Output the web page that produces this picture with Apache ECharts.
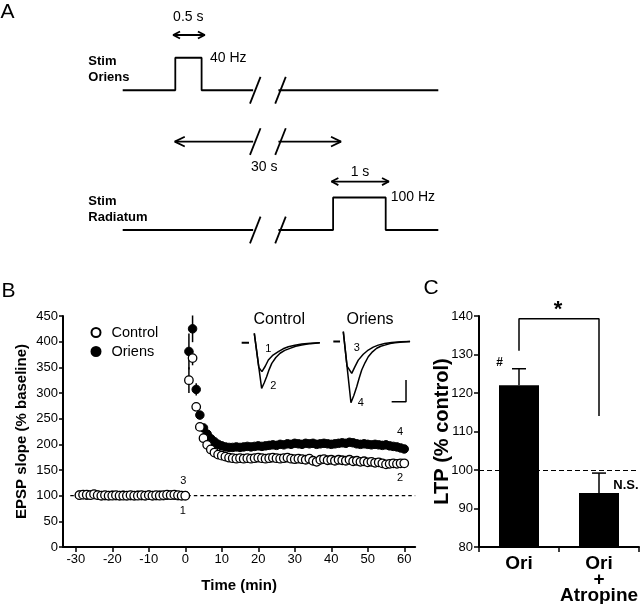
<!DOCTYPE html>
<html><head><meta charset="utf-8">
<script src="https://cdn.jsdelivr.net/npm/echarts@6/dist/echarts.min.js"></script>
<style>html,body{margin:0;padding:0;background:#fff}#c{width:640px;height:604px}</style>
</head><body><div id="c"></div>
<script>
const FONT = '"Liberation Sans", Arial, Helvetica, sans-serif';

// ---------- Panel A: stimulation schematic (x: schematic seconds, y: level) ----------
const oriensTraceLeft = [[0,4.3],[1.0,4.3],[1.0,5.3],[1.5,5.3],[1.5,4.3],[2.48,4.3]];
const oriensTraceRight = [[2.96,4.3],[6.0,4.3]];
const radiatumTraceLeft = [[0,0],[2.48,0]];
const radiatumTraceRight = [[2.96,0],[4.0,0],[4.0,1],[5.0,1],[5.0,0],[6.0,0]];
const intervalArrowLeft = [[0.99,2.72],[2.48,2.72]];
const intervalArrowRight = [[2.96,2.72],[4.15,2.72]];
const oriensPulseArrow = [[0.96,6.0],[1.56,6.0]];
const radiatumPulseArrow = [[3.97,1.49],[5.06,1.49]];
const breakRows = [4.3, 2.72, 0];
const breakXs = [[2.42,2.62],[2.90,3.10]];

// ---------- Panel B: EPSP slope time course ----------
const baselineTimes = [-29,-28,-27,-26,-25,-24,-23,-22,-21,-20,-19,-18,-17,-16,-15,-14,-13,-12,-11,-10,-9,-8,-7,-6,-5,-4,-3,-2,-1,0];
const controlBaseline = [101,102,102,101,103,101,100,101,100,100,101,100,100,100,101,100,100,101,100,101,100,101,100,101,102,101,102,101,100,100];
const oriensBaseline  = [101,102,101,101,102,101,100,100,100,101,100,100,101,100,100,100,101,100,100,101,100,100,101,100,101,101,101,100,100,100];
const postTimes = [1,2,3,4,5,6,7,8,9,10,11,12,13,14,15,16,17,18,19,20,21,22,23,24,25,26,27,28,29,30,31,32,33,34,35,36,37,38,39,40,41,42,43,44,45,46,47,48,49,50,51,52,53,54,55,56,57,58,59,60];
const controlPost = [325,368,273,234,212,199,190,184,180,178,176,174,173,172,173,172,173,172,173,174,173,172,173,174,173,172,173,174,172,171,172,171,170,172,168,166,170,171,169,170,168,170,169,168,170,167,168,166,167,165,166,164,165,163,161,162,163,162,163,163];
const oriensPost = [381,425,307,257,232,220,211,205,200,197,195,194,194,195,194,195,196,195,196,197,196,197,198,199,198,200,199,201,200,202,201,200,202,201,202,200,201,202,201,200,201,202,203,202,204,203,201,200,201,200,199,200,199,198,199,197,196,195,193,191];
const controlErr = [[1,325,25],[2,368,14],[3,273,8],[4,234,5]];
const oriensErr = [[1,381,35],[2,425,26],[3,307,12],[4,257,8]];
const xTickValues = [-30,-20,-10,0,10,20,30,40,50,60];
const baselineRef = [[-31.5,100],[63,100]];

// Inset example traces (ms, mV)
const controlDash = [[-8.1,0],[-3.4,0]];
const controlTrace1 = [[0,0.42],[2.9,-1.1],[4.9,-1.29],[7.0,-1.05],[9.0,-0.77],[12,-0.55],[15.4,-0.40],[18.5,-0.27],[21.8,-0.18],[26,-0.11],[30.4,-0.06],[36,-0.02],[42,0]];
const controlTrace2 = [[0,0.42],[4.7,-2.04],[6.3,-1.80],[7.9,-1.52],[9.5,-1.20],[11.2,-0.92],[13.8,-0.66],[16.5,-0.47],[19.5,-0.34],[22.9,-0.25],[26.5,-0.16],[30.4,-0.10],[36,-0.04],[42,0]];
const oriensDash = [[-6.4,0],[-2.1,0]];
const oriensTrace3 = [[0,0.44],[2.4,-1.1],[5.4,-1.42],[7.4,-1.13],[9.6,-0.83],[12.8,-0.57],[16.0,-0.38],[19.2,-0.25],[22.4,-0.16],[26.5,-0.09],[31.0,-0.04],[37,-0.01],[42.8,0]];
const oriensTrace4 = [[0,0.44],[4.9,-2.73],[6.8,-2.40],[8.6,-2.02],[10.2,-1.63],[11.8,-1.27],[13.9,-0.95],[16.0,-0.68],[18.7,-0.46],[21.4,-0.30],[24,-0.21],[26.6,-0.16],[30,-0.09],[33.1,-0.05],[38,-0.02],[42.8,0]];
const scaleBar = [[31,-2.69],[40.2,-2.69],[40.2,-1.72]];

// ---------- Panel C: LTP bars ----------
const ltpCategories = ['Ori', 'Ori\n+\nAtropine'];
const ltpValues = [122, 94];
const ltpErr = [[0,122,4.3],[1,94,5.2]];
const sigBracket = [[0,131],[0,139.3],[1,139.3],[1,114]];
const yTicksC = [80,140,10];

// ---------- build ----------
function seg(data, gi, width, extra) {
  return Object.assign({type:'line', xAxisIndex:gi, yAxisIndex:gi, data:data, symbol:'none', silent:true,
    lineStyle:{color:'#000', width:width}, z:2, animation:false}, extra || {});
}
function heads(arrow, len, half) {
  const a = arrow[0], b = arrow[1];
  return [
    [[a[0]+len, a[1]+half],[a[0],a[1]],[a[0]+len, a[1]-half]],
    [[b[0]-len, b[1]+half],[b[0],b[1]],[b[0]-len, b[1]-half]]
  ];
}
const series = [];
const AW = 1.8;
// Panel A
[oriensTraceLeft, oriensTraceRight, radiatumTraceLeft, radiatumTraceRight,
 intervalArrowLeft, intervalArrowRight, oriensPulseArrow, radiatumPulseArrow].forEach(d => series.push(seg(d, 0, AW)));
breakRows.forEach(r => breakXs.forEach(bx => series.push(seg([[bx[0], r-0.41],[bx[1], r+0.41]], 0, AW))));
heads([intervalArrowLeft[0], intervalArrowRight[1]], 0.19, 0.15).forEach(h => series.push(seg(h, 0, AW)));
heads(oriensPulseArrow, 0.13, 0.11).forEach(h => series.push(seg(h, 0, AW)));
heads(radiatumPulseArrow, 0.13, 0.11).forEach(h => series.push(seg(h, 0, AW)));

// Panel B main
const zip = (xs, ys) => xs.map((x, i) => [x, ys[i]]);
series.push(seg(baselineRef, 1, 1.2, {lineStyle:{color:'#000', width:1.2, type:[3.5,3]}, z:1}));
function errRender(params, api) {
  const x = api.value(0), v = api.value(1), e = api.value(2);
  const p1 = api.coord([x, v - e]), p2 = api.coord([x, v + e]);
  return {type:'line', shape:{x1:p1[0], y1:p1[1], x2:p2[0], y2:p2[1]}, style:{stroke:'#000', lineWidth:1.5}};
}
series.push({type:'custom', xAxisIndex:1, yAxisIndex:1, data:oriensErr, renderItem:errRender, z:2, silent:true, encode:{x:0,y:1}});
series.push({type:'custom', xAxisIndex:1, yAxisIndex:1, data:controlErr, renderItem:errRender, z:2, silent:true, encode:{x:0,y:1}});
series.push({name:'Oriens', type:'scatter', xAxisIndex:1, yAxisIndex:1, symbol:'circle', symbolSize:8.5,
  data: zip(baselineTimes, oriensBaseline).concat(zip(postTimes, oriensPost)),
  itemStyle:{color:'#000', borderColor:'#000', borderWidth:1, opacity:1}, z:3, silent:true});
series.push({name:'Control', type:'scatter', xAxisIndex:1, yAxisIndex:1, symbol:'circle', symbolSize:8.5,
  data: zip(baselineTimes, controlBaseline).concat(zip(postTimes, controlPost)),
  itemStyle:{color:'#fff', borderColor:'#000', borderWidth:1.3, opacity:1}, z:4, silent:true});

// Insets
series.push(seg(controlDash, 2, 2));
series.push(seg(controlTrace1, 2, 1.5));
series.push(seg(controlTrace2, 2, 1.5));
series.push(seg(oriensDash, 3, 2));
series.push(seg(oriensTrace3, 3, 1.5));
series.push(seg(oriensTrace4, 3, 1.5));
series.push(seg(scaleBar, 3, 1.5));

// Panel C
series.push({type:'bar', xAxisIndex:4, yAxisIndex:4, data:ltpValues, barWidth:40, itemStyle:{color:'#000'}, z:2, silent:true,
  markLine:{symbol:'none', silent:true, label:{show:false}, lineStyle:{color:'#000', width:1.2, type:[5,3]}, data:[{yAxis:100}]}});
function errRenderC(params, api) {
  const c = api.value(0), v = api.value(1), e = api.value(2);
  const base = api.coord([c, v]), top = api.coord([c, v + e]);
  const w = 7;
  return {type:'group', children:[
    {type:'line', shape:{x1:base[0], y1:base[1], x2:top[0], y2:top[1]}, style:{stroke:'#000', lineWidth:1.5}},
    {type:'line', shape:{x1:top[0]-w, y1:top[1], x2:top[0]+w, y2:top[1]}, style:{stroke:'#000', lineWidth:1.5}}
  ]};
}
series.push({type:'custom', xAxisIndex:4, yAxisIndex:4, data:ltpErr, renderItem:errRenderC, z:3, silent:true, encode:{x:0,y:1}});
series.push(seg(sigBracket, 4, 1.5, {clip:false}));

const hidden = {show:false};
const axLine = {show:true, onZero:false, lineStyle:{color:'#000', width:2}};
const tickStyle = {color:'#000', width:1.5};
const lab = {color:'#000', fontFamily:FONT, fontSize:13};

const option = {
  animation:false,
  textStyle:{fontFamily:FONT},
  grid:[
    {left:122.7, top:18.75, width:315.6, height:243.75, outerBoundsMode:'none', containLabel:false},
    {left:63, top:316, width:352.2, height:231, outerBoundsMode:'none', containLabel:false},
    {left:238.7, top:329.3, width:85.8, height:62.7, outerBoundsMode:'none', containLabel:false},
    {left:327.7, top:328.1, width:85.8, height:80.6, outerBoundsMode:'none', containLabel:false},
    {left:479, top:316, width:160, height:231, outerBoundsMode:'none', containLabel:false}
  ],
  xAxis:[
    {gridIndex:0, type:'value', min:0, max:6, show:false},
    {gridIndex:1, type:'value', min:-33.5, max:63, axisLine:axLine,
     axisTick:{show:true, length:5, lineStyle:tickStyle, customValues:xTickValues},
     axisLabel:Object.assign({customValues:xTickValues, margin:6}, lab),
     splitLine:hidden, name:'Time (min)', nameLocation:'middle', nameGap:31, nameMoveOverlap:false,
     nameTextStyle:{color:'#000', fontFamily:FONT, fontSize:15, fontWeight:'bold'}},
    {gridIndex:2, type:'value', min:-10, max:45, show:false},
    {gridIndex:3, type:'value', min:-10, max:45, show:false},
    {gridIndex:4, type:'category', data:ltpCategories, axisLine:axLine,
     axisTick:{show:true, length:5, lineStyle:tickStyle, alignWithLabel:false},
     axisLabel:{color:'#000', fontFamily:FONT, fontSize:19, fontWeight:'bold', lineHeight:16, margin:9, interval:0},
     splitLine:hidden}
  ],
  yAxis:[
    {gridIndex:0, type:'value', min:-1, max:6.5, show:false},
    {gridIndex:1, type:'value', min:0, max:450, interval:50, axisLine:axLine,
     axisTick:{show:true, length:4, lineStyle:tickStyle}, axisLabel:Object.assign({margin:5}, lab),
     splitLine:hidden, name:'EPSP slope (% baseline)', nameLocation:'middle', nameGap:34, nameMoveOverlap:false,
     nameTextStyle:{color:'#000', fontFamily:FONT, fontSize:15, fontWeight:'bold'}},
    {gridIndex:2, type:'value', min:-2.2, max:0.6, show:false},
    {gridIndex:3, type:'value', min:-3.0, max:0.6, show:false},
    {gridIndex:4, type:'value', min:yTicksC[0], max:yTicksC[1], interval:yTicksC[2], axisLine:axLine,
     axisTick:{show:true, length:5, lineStyle:tickStyle}, axisLabel:Object.assign({margin:6}, lab),
     splitLine:hidden, name:'LTP (% control)', nameLocation:'middle', nameGap:27, nameMoveOverlap:false,
     nameTextStyle:{color:'#000', fontFamily:FONT, fontSize:20, fontWeight:'bold'}}
  ],
  legend:{show:true, orient:'vertical', left:85.5, top:320, itemWidth:9, itemHeight:9, itemGap:4,
    data:['Control','Oriens'], icon:'circle',
    textStyle:{color:'#000', fontFamily:FONT, fontSize:14.5, padding:[0,0,0,6]}},
  series: series,
  graphic: []
};

function txt(t, x, y, size, weight, align) {
  return {type:'text', x:x, y:y, silent:true, z:100,
    style:{text:t, fill:'#000', font:(weight||'normal') + ' ' + size + 'px ' + FONT,
      textAlign:align||'center', textVerticalAlign:'middle', align:align||'center', verticalAlign:'middle'}};
}
option.graphic = [
  txt('A', 7.5, 12.5, 21),
  txt('B', 8.5, 291, 21),
  txt('C', 431, 288, 21),
  txt('0.5 s', 188.3, 17.5, 14),
  txt('40 Hz', 210, 58.3, 14, 'normal', 'left'),
  txt('Stim', 88.3, 61, 13, 'bold', 'left'),
  txt('Oriens', 88.3, 77.5, 13, 'bold', 'left'),
  txt('30 s', 264.2, 167.5, 14),
  txt('1 s', 360, 171.7, 14),
  txt('100 Hz', 390.7, 197.5, 14, 'normal', 'left'),
  txt('Stim', 88.3, 201, 13, 'bold', 'left'),
  txt('Radiatum', 88.3, 217.5, 13, 'bold', 'left'),
  txt('Control', 279.2, 319.2, 16),
  txt('Oriens', 370, 319.2, 16),
  txt('1', 268.3, 349.3, 11),
  txt('2', 273.3, 385.7, 11),
  txt('3', 356.7, 348.3, 11),
  txt('4', 360.7, 403.3, 11),
  txt('3', 183.3, 480.7, 11),
  txt('1', 182.7, 510.7, 11),
  txt('4', 400, 431.7, 11),
  txt('2', 400, 478, 11),
  txt('*', 558, 310, 22, 'bold'),
  txt('#', 499.6, 363, 12, 'bold'),
  txt('N.S.', 626, 485, 13, 'bold')
];

const chart = echarts.init(document.getElementById('c'), null, {renderer:'canvas'});
chart.setOption(option);
</script></body></html>
